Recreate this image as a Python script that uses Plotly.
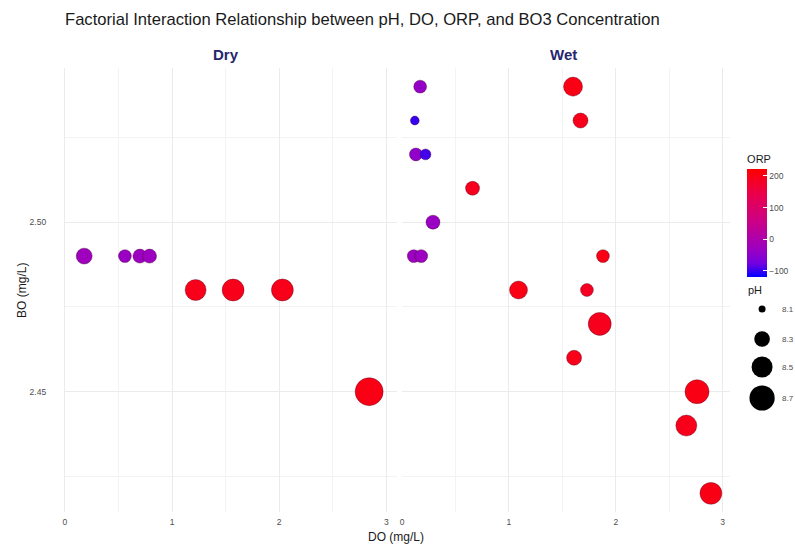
import numpy as np
import plotly.graph_objects as go

W, H = 795, 546

# ---------------- data ----------------
dry_do = [0.18, 0.56, 0.70, 0.79, 1.22, 1.57, 2.03, 2.84]
dry_bo = [2.49, 2.49, 2.49, 2.49, 2.48, 2.48, 2.48, 2.45]
dry_ph = [8.31, 8.22, 8.25, 8.25, 8.50, 8.54, 8.54, 8.85]
dry_orp = [-25, -35, -30, -30, 195, 195, 195, 200]

wet_do = [0.17, 0.12, 0.13, 0.22, 0.66, 1.60, 1.67, 0.29, 0.11, 0.18,
          1.88, 1.09, 1.73, 1.85, 1.61, 2.76, 2.66, 2.89]
wet_bo = [2.54, 2.53, 2.52, 2.52, 2.51, 2.54, 2.53, 2.50, 2.49, 2.49,
          2.49, 2.48, 2.48, 2.47, 2.46, 2.45, 2.44, 2.42]
wet_ph = [8.22, 8.13, 8.22, 8.17, 8.25, 8.42, 8.28, 8.25, 8.22, 8.22,
          8.22, 8.38, 8.22, 8.59, 8.28, 8.64, 8.50, 8.54]
wet_orp = [-40, -100, -45, -95, 190, 200, 195, -35, -30, -30,
           200, 200, 185, 190, 195, 200, 195, 200]

ph_breaks = [8.1, 8.3, 8.5, 8.7]
orp_ticks = [-100, 0, 100, 200]
facets = ["Dry", "Wet"]
x_ticks = [0, 1, 2, 3]

# ---------------- scales ----------------
PH_LO, PH_SPAN, D_MAX = 8.05, 0.8, 28.0


def ph_size(ph):
    t = np.clip((np.asarray(ph, float) - PH_LO) / PH_SPAN, 0, 1.2)
    return D_MAX * np.sqrt(t)


colorscale = [
    [0.0, "rgb(0,0,255)"],
    [0.125, "rgb(115,0,224)"],
    [0.25, "rgb(154,0,195)"],
    [0.5, "rgb(201,0,137)"],
    [0.75, "rgb(232,0,80)"],
    [1.0, "rgb(255,0,0)"],
]

FONT = "Liberation Sans, Arial, sans-serif"


def px_x(p):
    return p / W


def px_y(p):
    return 1 - p / H


fig = go.Figure()

marker_line = dict(width=1, color="rgba(60,0,30,0.35)")
fig.add_trace(go.Scatter(
    x=dry_do, y=dry_bo, mode="markers", xaxis="x", yaxis="y",
    marker=dict(size=ph_size(dry_ph), color=dry_orp, coloraxis="coloraxis",
                line=marker_line, opacity=1),
    showlegend=False, hoverinfo="skip"))
fig.add_trace(go.Scatter(
    x=wet_do, y=wet_bo, mode="markers", xaxis="x2", yaxis="y",
    marker=dict(size=ph_size(wet_ph), color=wet_orp, coloraxis="coloraxis",
                line=marker_line, opacity=1),
    showlegend=False, hoverinfo="skip"))

# size legend (pH) drawn on a hidden pixel-space axis
key_y = [309, 339, 367, 398]
key_x = 762
fig.add_trace(go.Scatter(
    x=[key_x] * len(ph_breaks), y=key_y, mode="markers", xaxis="x3", yaxis="y3",
    marker=dict(size=ph_size(ph_breaks), color="#000000", opacity=1,
                line=dict(width=0)),
    showlegend=False, hoverinfo="skip"))

grid = "#EBEBEB"
minor_grid = "#F3F3F3"
tickfont = dict(family=FONT, size=8.5, color="#4D4D4D")
xcommon = dict(range=[-0.01, 3.1], tickvals=x_ticks, showgrid=True, gridcolor=grid,
               gridwidth=1, zeroline=False, showline=False,
               minor=dict(dtick=0.5, showgrid=True, gridcolor=minor_grid, gridwidth=0.6),
               ticks="outside", ticklen=2, tickcolor="rgba(0,0,0,0)",
               tickfont=tickfont)

fig.update_layout(
    width=W, height=H,
    margin=dict(l=0, r=0, t=0, b=0),
    paper_bgcolor="white", plot_bgcolor="rgba(0,0,0,0)",
    font=dict(family=FONT),
    xaxis=dict(domain=[px_x(62), px_x(396)], anchor="y", **xcommon),
    xaxis2=dict(domain=[px_x(401), px_x(730)], anchor="y", **{**xcommon, "range": [0.0, 3.07]}),
    yaxis=dict(domain=[px_y(512), px_y(68)], range=[2.4145, 2.5455], anchor="x",
               dtick=0.05, tickformat=".2f", showgrid=True, gridcolor=grid, gridwidth=1,
               minor=dict(dtick=0.025, showgrid=True, gridcolor=minor_grid, gridwidth=0.6),
               zeroline=False, showline=False, ticks="outside", ticklen=15,
               tickcolor="rgba(0,0,0,0)", tickfont=tickfont),
    xaxis3=dict(domain=[0, 1], range=[0, W], visible=False, fixedrange=True, anchor="y3"),
    yaxis3=dict(domain=[0, 1], range=[H, 0], visible=False, fixedrange=True, anchor="x3"),
    coloraxis=dict(
        colorscale=colorscale, cmin=-120, cmax=222,
        colorbar=dict(
            x=px_x(747), xanchor="left", y=px_y(214.5), yanchor="middle",
            len=125, lenmode="pixels", thickness=20, thicknessmode="pixels",
            outlinewidth=0, xpad=0, ypad=0,
            tickvals=orp_ticks, ticks="inside", ticklen=4, tickcolor="white",
            tickfont=dict(family=FONT, size=8.5, color="#4D4D4D"),
            title=dict(text="ORP", side="top", font=dict(family=FONT, size=11, color="#1a1a1a")),
        ),
    ),
)

ann = []
ann.append(dict(text="Factorial Interaction Relationship between pH, DO, ORP, and BO3 Concentration",
                x=px_x(61), y=px_y(20), xref="paper", yref="paper", xanchor="left",
                yanchor="middle", showarrow=False,
                font=dict(family=FONT, size=16.6, color="#1a1a1a")))
for name, cx in zip(facets, [225, 563]):
    ann.append(dict(text=f"<b>{name}</b>", x=px_x(cx), y=px_y(55), xref="paper", yref="paper",
                    xanchor="center", yanchor="middle", showarrow=False,
                    font=dict(family=FONT, size=15, color="#26266E")))
ann.append(dict(text="DO (mg/L)", x=px_x(395), y=px_y(537), xref="paper", yref="paper",
                xanchor="center", yanchor="middle", showarrow=False,
                font=dict(family=FONT, size=12, color="#1a1a1a")))
ann.append(dict(text="BO (mg/L)", x=px_x(20), y=px_y(290), xref="paper", yref="paper",
                xanchor="center", yanchor="middle", showarrow=False, textangle=-90,
                font=dict(family=FONT, size=12, color="#1a1a1a")))
ann.append(dict(text="pH", x=px_x(746), y=px_y(290), xref="paper", yref="paper",
                xanchor="left", yanchor="middle", showarrow=False,
                font=dict(family=FONT, size=11, color="#1a1a1a")))
for b, ky in zip(ph_breaks, key_y):
    ann.append(dict(text=f"{b:.1f}", x=px_x(780), y=px_y(ky), xref="paper", yref="paper",
                    xanchor="left", yanchor="middle", showarrow=False,
                    font=dict(family=FONT, size=8, color="#4D4D4D")))
fig.update_layout(annotations=ann)

fig.write_html("out.html", config={"displayModeBar": False},
               post_script="document.body.style.margin='0';")
